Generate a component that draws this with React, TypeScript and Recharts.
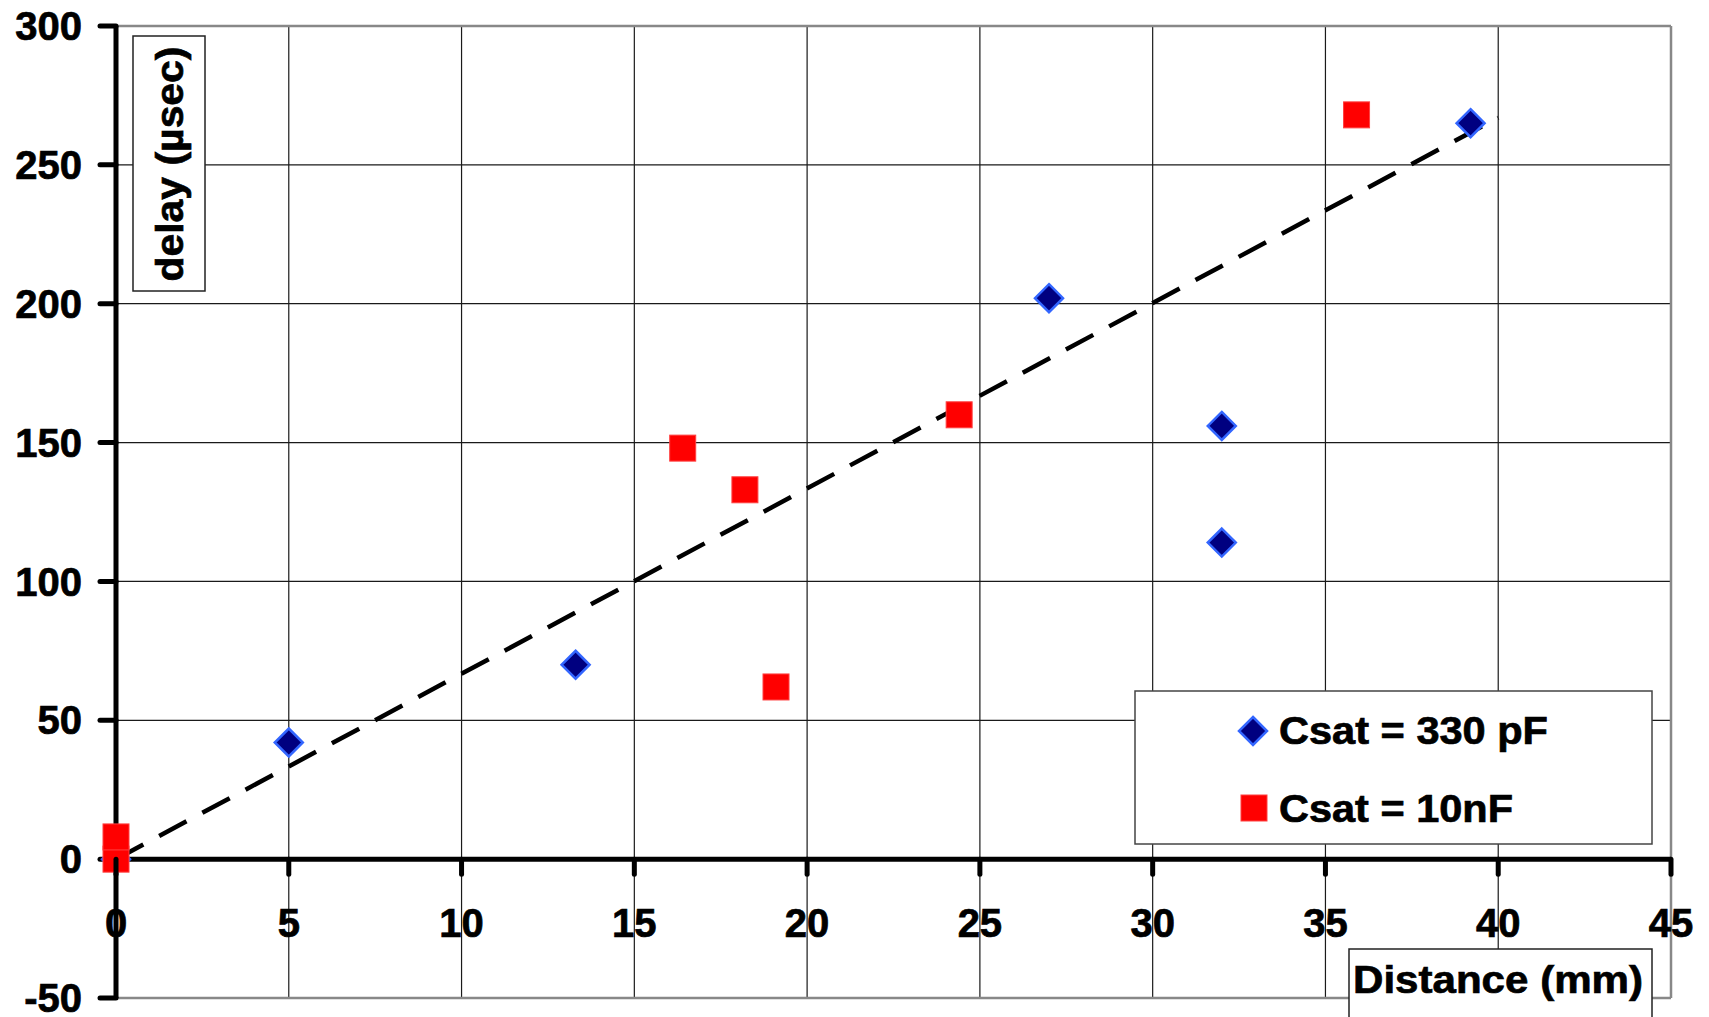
import React from 'react';
import {
  ScatterChart,
  Scatter,
  XAxis,
  YAxis,
  CartesianGrid,
  ReferenceLine,
  Legend,
  Label,
} from 'recharts';

// data
const xTicks = [0, 5, 10, 15, 20, 25, 30, 35, 40, 45];
const yTicks = [-50, 0, 50, 100, 150, 200, 250, 300];

const csat330 = [
  { x: 0, y: 0 },
  { x: 5, y: 42 },
  { x: 13.3, y: 70 },
  { x: 27, y: 202 },
  { x: 32, y: 156 },
  { x: 32, y: 114 },
  { x: 39.2, y: 265 },
];

const csat10n = [
  { x: 0, y: 0 },
  { x: 0, y: 8 },
  { x: 16.4, y: 148 },
  { x: 18.2, y: 133 },
  { x: 19.1, y: 62 },
  { x: 24.4, y: 160 },
  { x: 35.9, y: 268 },
];

const trend = [
  { x: 0, y: 0 },
  { x: 40, y: 267 },
];

const W = 1709;
const H = 1017;
const M = { top: 26, right: 38, bottom: 18, left: 0 };
const Y_AXIS_W = 116;
const PLOT_H = H - M.top - M.bottom - 1;
const ZERO_Y = M.top + (PLOT_H * 300) / 350;
const FONT = '"Liberation Sans", Arial, sans-serif';

const Diamond = (props: any) => {
  const { cx, cy } = props;
  const r = 14;
  return (
    <polygon
      points={`${cx},${cy - r} ${cx + r},${cy} ${cx},${cy + r} ${cx - r},${cy}`}
      fill="#000080"
      stroke="#3366ff"
      strokeWidth={2.5}
    />
  );
};

const Square = (props: any) => {
  const { cx, cy } = props;
  return <rect x={cx - 13} y={cy - 13} width={26} height={26} fill="#ff0000" stroke="#ff4040" strokeWidth={1} />;
};

const XTick = (props: any) => {
  const { x, payload } = props;
  return (
    <g>
      <line x1={x} y1={ZERO_Y} x2={x} y2={ZERO_Y + 15} stroke="#000" strokeWidth={5} strokeLinecap="round" />
      <text
        x={x}
        y={ZERO_Y + 63}
        dy="0.36em"
        textAnchor="middle"
        fontFamily={FONT}
        fontWeight="bold"
        fontSize={40}
        stroke="#000"
        strokeWidth={0.7}
        fill="#000"
      >
        {payload.value}
      </text>
    </g>
  );
};

const YLabel = (props: any) => {
  const { viewBox } = props;
  const left = viewBox.x + viewBox.width + 17;
  const top = 36;
  const cx = left + 36;
  const cy = top + 128;
  return (
    <g>
      <rect x={left} y={top} width={72} height={255} fill="#fff" stroke="#222" strokeWidth={1.5} />
      <text
        x={cx + 14}
        y={cy}
        transform={`rotate(-90 ${cx + 14} ${cy})`}
        textAnchor="middle"
        fontFamily={FONT}
        fontWeight="bold"
        fontSize={39}
        textLength={235}
        lengthAdjust="spacingAndGlyphs"
        stroke="#000"
        strokeWidth={0.7}
        fill="#000"
      >
        delay (µsec)
      </text>
    </g>
  );
};

const XLabel = () => (
  <g>
    <rect x={1349} y={949} width={303} height={80} fill="#fff" stroke="#222" strokeWidth={1.5} />
    <text
      x={1353}
      y={993}
      fontFamily={FONT}
      fontWeight="bold"
      fontSize={38}
      textLength={290}
      lengthAdjust="spacingAndGlyphs"
      stroke="#000"
      strokeWidth={0.7}
      fill="#000"
    >
      Distance (mm)
    </text>
  </g>
);

const renderLegend = () => (
  <svg width={520} height={156} style={{ display: 'block' }}>
    <rect x={1} y={1} width={517} height={153} fill="#fff" stroke="#444" strokeWidth={1.5} />
    <Diamond cx={119} cy={41} />
    <text x={145} y={54} fontFamily={FONT} fontWeight="bold" fontSize={39} textLength={269} lengthAdjust="spacingAndGlyphs" stroke="#000" strokeWidth={0.7}>
      Csat = 330 pF
    </text>
    <Square cx={120} cy={118} />
    <text x={145} y={132} fontFamily={FONT} fontWeight="bold" fontSize={39} textLength={234} lengthAdjust="spacingAndGlyphs" stroke="#000" strokeWidth={0.7}>
      Csat = 10nF
    </text>
  </svg>
);

export default function App() {
  return (
    <div style={{ position: 'absolute', left: 0, top: 0, width: W, height: H, background: '#fff' }}>
      <ScatterChart width={W} height={H} margin={M}>
        <CartesianGrid stroke="#1a1a1a" strokeWidth={1.2} />
        <ReferenceLine y={300} stroke="#888" strokeWidth={2.5} />
        <ReferenceLine y={-50} stroke="#888" strokeWidth={2.5} />
        <ReferenceLine x={45} stroke="#888" strokeWidth={2.5} />
        <XAxis
          type="number"
          dataKey="x"
          domain={[0, 45]}
          ticks={xTicks}
          height={1}
          axisLine={false}
          tickLine={false}
          tick={<XTick />}
          interval={0}
        />
        <YAxis
          type="number"
          dataKey="y"
          domain={[-50, 300]}
          ticks={yTicks}
          width={Y_AXIS_W}
          interval={0}
          axisLine={{ stroke: '#000', strokeWidth: 5 }}
          tickLine={{ stroke: '#000', strokeWidth: 5, strokeLinecap: 'round' }}
          tickSize={16}
          tickMargin={18}
          tick={{ fill: '#000', stroke: '#000', strokeWidth: 0.7, fontSize: 40, fontWeight: 'bold', fontFamily: FONT }}
        >
          <Label content={<YLabel />} />
        </YAxis>
        <ReferenceLine y={0} stroke="#000" strokeWidth={5} label={<XLabel />} />
        <Scatter
          name="trend"
          data={trend}
          line={{ stroke: '#000', strokeWidth: 4.5, strokeDasharray: '31 18', fill: 'none' }}
          shape={() => <g />}
          legendType="none"
          isAnimationActive={false}
        />
        <Scatter name="Csat = 330 pF" data={csat330} shape={<Diamond />} isAnimationActive={false} />
        <Scatter name="Csat = 10nF" data={csat10n} shape={<Square />} isAnimationActive={false} />
        <Legend
          layout="vertical"
          align="center"
          verticalAlign="middle"
          content={renderLegend}
          wrapperStyle={{ left: 1134, top: 690, width: 520, height: 156 }}
        />
      </ScatterChart>
    </div>
  );
}
